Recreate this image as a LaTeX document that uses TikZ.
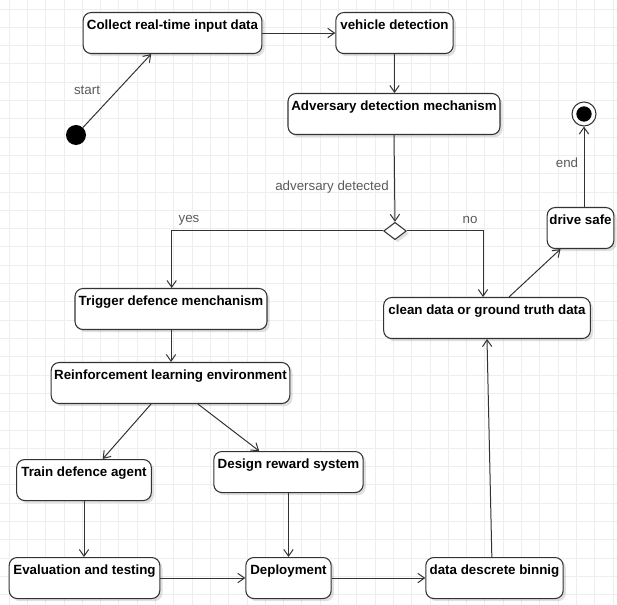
\documentclass[tikz,border=0pt]{standalone}
\usepackage{fontspec}
\setsansfont{Liberation Sans}
\usetikzlibrary{arrows.meta,shapes.geometric,shadows}
\definecolor{lineclr}{RGB}{51,51,51}
\definecolor{gridclr}{RGB}{238,238,238}
\definecolor{lblclr}{RGB}{90,90,90}
\tikzset{
  state/.style={draw=lineclr, line width=0.8pt, rounded corners=6pt, fill=white,
    font=\sffamily\bfseries\fontsize{10}{12}\selectfont, inner sep=0pt,
    text height=12.6pt, text depth=18.15pt, anchor=north,
    drop shadow={shadow xshift=2pt, shadow yshift=-2pt, opacity=0.12, fill=black}},
  lbl/.style={font=\sffamily\fontsize{10}{12}\selectfont, text=lblclr, inner sep=0pt},
  arr/.style={draw=lineclr, line width=0.75pt, -{Straight Barb[length=5pt,width=7pt]}},
  gridline/.style={draw=gridclr, line width=0.6pt}
}
\begin{document}
\begin{tikzpicture}[x=0.75pt,y=0.75pt,yscale=-1,xscale=1]
\useasboundingbox (0,0) rectangle (617,605);
% background grid
\foreach \i in {0,...,33} \draw[gridline] (9+18.3*\i,0) -- (9+18.3*\i,605);
\foreach \j in {0,...,32} \draw[gridline] (0,9+18.3*\j) -- (617,9+18.3*\j);

% start and end states
\node [circle, fill=black, minimum size=15pt, inner sep=0pt] (start) at (76,135) {};
\node [circle, draw=lineclr, line width=0.8pt, fill=white, minimum size=18pt, inner sep=0pt] (endst) at (584,114) {};
\node [circle, fill=black, minimum size=11.5pt, inner sep=0pt] (endin) at (584,114) {};

% states
\node [state, minimum width=134pt] (collect) at (172.5,12) {Collect real-time input data};
\node [state, minimum width=88pt] (vehicle) at (394.5,12) {vehicle detection};
\node [state, minimum width=159pt] (adversary) at (394,93) {Adversary detection mechanism};
\node [state, minimum width=144pt] (trigger) at (171,288) {Trigger defence menchanism};
\node [state, minimum width=179pt] (reinf) at (170.5,362) {Reinforcement learning environment};
\node [state, minimum width=101pt] (train) at (84,459) {Train defence agent};
\node [state, minimum width=112pt] (design) at (288.5,451) {Design reward system};
\node [state, minimum width=113pt] (evaluation) at (84.5,557) {Evaluation and testing};
\node [state, minimum width=64pt] (deploy) at (288.5,557) {Deployment};
\node [state, minimum width=103pt] (binning) at (494.5,557) {data descrete binnig};
\node [state, minimum width=155pt] (clean) at (487,297) {clean data or ground truth data};
\node [state, minimum width=50pt] (drive) at (580.5,207) {drive safe};

% decision
\node [diamond, draw=lineclr, line width=0.8pt, fill=white, minimum width=17pt, minimum height=13pt, inner sep=0pt,
  drop shadow={shadow xshift=2pt, shadow yshift=-2pt, opacity=0.12, fill=black}] (dec) at (395,231) {};

% labels
\node [lbl] (startlbl) at (87,90) {start};
\node [lbl] (advlbl) at (332,187) {adversary detected};
\node [lbl] (yeslbl) at (189,220) {yes};
\node [lbl] (nolbl) at (470,220) {no};
\node [lbl] (endlbl) at (567,163) {end};

% connectors
\draw [arr] (start) -- ([xshift=-16pt]collect.south);
\draw [arr] (collect) -- (vehicle);
\draw [arr] (vehicle.south) -- (vehicle.south |- adversary.north);
\draw [arr] (adversary.south) -- (dec.north);
\draw [arr] (dec.west) -| ([xshift=0.5pt]trigger.north);
\draw [arr] (dec.east) -| ([xshift=-3pt]clean.north);
\draw [arr] (trigger.south) -- (trigger.south |- reinf.north);
\draw [arr] ([xshift=-14.6pt]reinf.south) -- ([xshift=14pt]train.north);
\draw [arr] ([xshift=20.6pt]reinf.south) -- ([xshift=-22pt]design.north);
\draw [arr] (train.south) -- (train.south |- evaluation.north);
\draw [arr] (design.south) -- (design.south |- deploy.north);
\draw [arr] (evaluation) -- (deploy);
\draw [arr] (deploy) -- (binning);
\draw [arr] ([xshift=-2pt]binning.north) -- (clean.south);
\draw [arr] ([xshift=16.5pt]clean.north) -- ([xshift=-15pt]drive.south);
\draw [arr] (drive.north -| endst) -- (endst);
\end{tikzpicture}
\end{document}
